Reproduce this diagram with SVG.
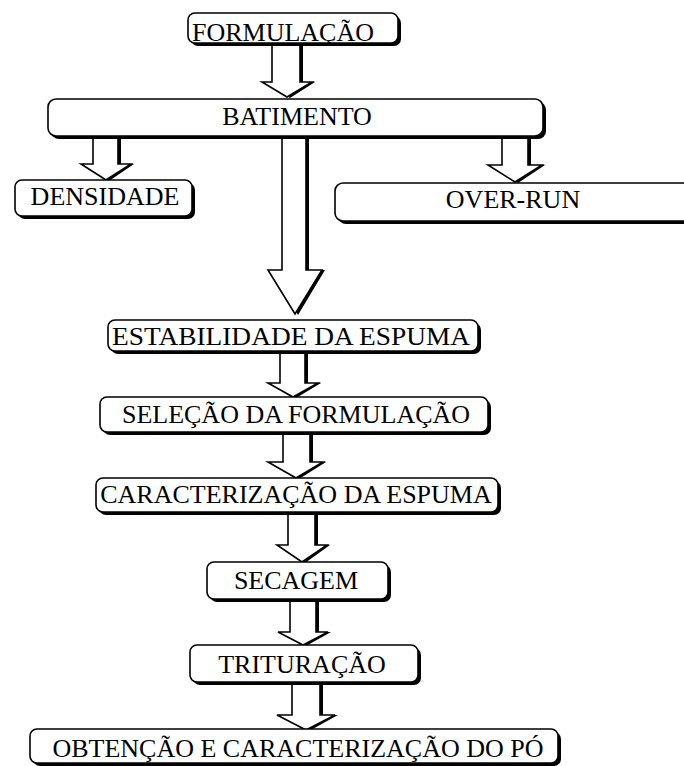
<svg xmlns="http://www.w3.org/2000/svg" width="684" height="766" viewBox="0 0 684 766">
<style>
.sh{fill:#000}
.bx{fill:#fff;stroke:#000;stroke-width:1.6}
.ar{fill:#fff;stroke:#000;stroke-width:1.6;stroke-linejoin:miter}
.t{font-family:"Liberation Serif","Times New Roman",serif;font-size:26px;fill:#000;text-anchor:middle}
</style>
<rect width="684" height="766" fill="#fff"/>
<g id="connectors">
<g id="a1"><path class="sh" d="M275,44 V82 H265 L290,98 L315,82 H303 V44 Z"/><path class="ar" d="M272,44 V82 H262 L287,97 L312,82 H300 V44 Z"/></g>
<g id="a2"><path class="sh" d="M96,137 V164 H84 L109,181 L134,164 H121 V137 Z"/><path class="ar" d="M93,137 V164 H81 L106,180 L131,164 H118 V137 Z"/></g>
<g id="a3"><path class="sh" d="M505,137 V165 H491 L518,183 L545,165 H531 V137 Z"/><path class="ar" d="M502,137 V165 H488 L515,182 L542,165 H528 V137 Z"/></g>
<g id="a4"><path class="sh" d="M285,137 V270 H271 L298,315 L325,270 H309 V137 Z"/><path class="ar" d="M282,137 V270 H268 L295,314 L322,270 H306 V137 Z"/></g>
<g id="a5"><path class="sh" d="M283,352 V383 H271 L296,398 L321,383 H308 V352 Z"/><path class="ar" d="M280,352 V383 H268 L293,397 L318,383 H305 V352 Z"/></g>
<g id="a6"><path class="sh" d="M286,434 V462 H271 L299,479 L326,462 H313 V434 Z"/><path class="ar" d="M283,434 V462 H268 L296,478 L323,462 H310 V434 Z"/></g>
<g id="a7"><path class="sh" d="M291,513 V545 H280 L305,563 L330,545 H318 V513 Z"/><path class="ar" d="M288,513 V545 H277 L302,562 L327,545 H315 V513 Z"/></g>
<g id="a8"><path class="sh" d="M293,600 V632 H281 L306,646 L331,632 H319 V600 Z"/><path class="ar" d="M290,600 V632 H278 L303,645 L328,632 H316 V600 Z"/></g>
<g id="a9"><path class="sh" d="M295,683 V715 H280 L309,731 L338,715 H323 V683 Z"/><path class="ar" d="M292,683 V715 H277 L306,730 L335,715 H320 V683 Z"/></g>
</g>
<g id="formulacao"><rect class="sh" x="191" y="16" width="210" height="30" rx="7"/><rect class="bx" x="188" y="13" width="210" height="30" rx="7"/><text class="t" x="283" y="41">FORMULAÇÃO</text></g>
<g id="batimento"><rect class="sh" x="51" y="102" width="495" height="37" rx="8"/><rect class="bx" x="48" y="99" width="495" height="37" rx="8"/><text class="t" x="297" y="125">BATIMENTO</text></g>
<g id="densidade"><rect class="sh" x="18" y="183" width="177" height="36" rx="7"/><rect class="bx" x="15" y="180" width="177" height="36" rx="7"/><text class="t" x="105" y="205">DENSIDADE</text></g>
<g id="overrun"><rect class="sh" x="338" y="186" width="380" height="38" rx="8"/><rect class="bx" x="335" y="183" width="380" height="38" rx="8"/><text class="t" x="513" y="208">OVER-RUN</text></g>
<g id="estabilidade"><rect class="sh" x="111" y="323" width="370" height="31" rx="7"/><rect class="bx" x="108" y="320" width="370" height="31" rx="7"/><text class="t" x="291" y="345" textLength="358" lengthAdjust="spacingAndGlyphs">ESTABILIDADE DA ESPUMA</text></g>
<g id="selecao"><rect class="sh" x="103" y="400" width="388" height="35" rx="7"/><rect class="bx" x="100" y="397" width="388" height="35" rx="7"/><text class="t" x="296" y="423">SELEÇÃO DA FORMULAÇÃO</text></g>
<g id="caracterizacao"><rect class="sh" x="99" y="481" width="402" height="34" rx="7"/><rect class="bx" x="96" y="478" width="402" height="34" rx="7"/><text class="t" x="296" y="503">CARACTERIZAÇÃO DA ESPUMA</text></g>
<g id="secagem"><rect class="sh" x="210" y="565" width="181" height="37" rx="7"/><rect class="bx" x="207" y="562" width="181" height="37" rx="7"/><text class="t" x="296" y="589">SECAGEM</text></g>
<g id="trituracao"><rect class="sh" x="193" y="648" width="228" height="37" rx="7"/><rect class="bx" x="190" y="645" width="228" height="37" rx="7"/><text class="t" x="302" y="673">TRITURAÇÃO</text></g>
<g id="obtencao"><rect class="sh" x="33" y="732" width="528" height="34" rx="7"/><rect class="bx" x="30" y="729" width="528" height="34" rx="7"/><text class="t" x="298" y="757">OBTENÇÃO E CARACTERIZAÇÃO DO PÓ</text></g>
</svg>
